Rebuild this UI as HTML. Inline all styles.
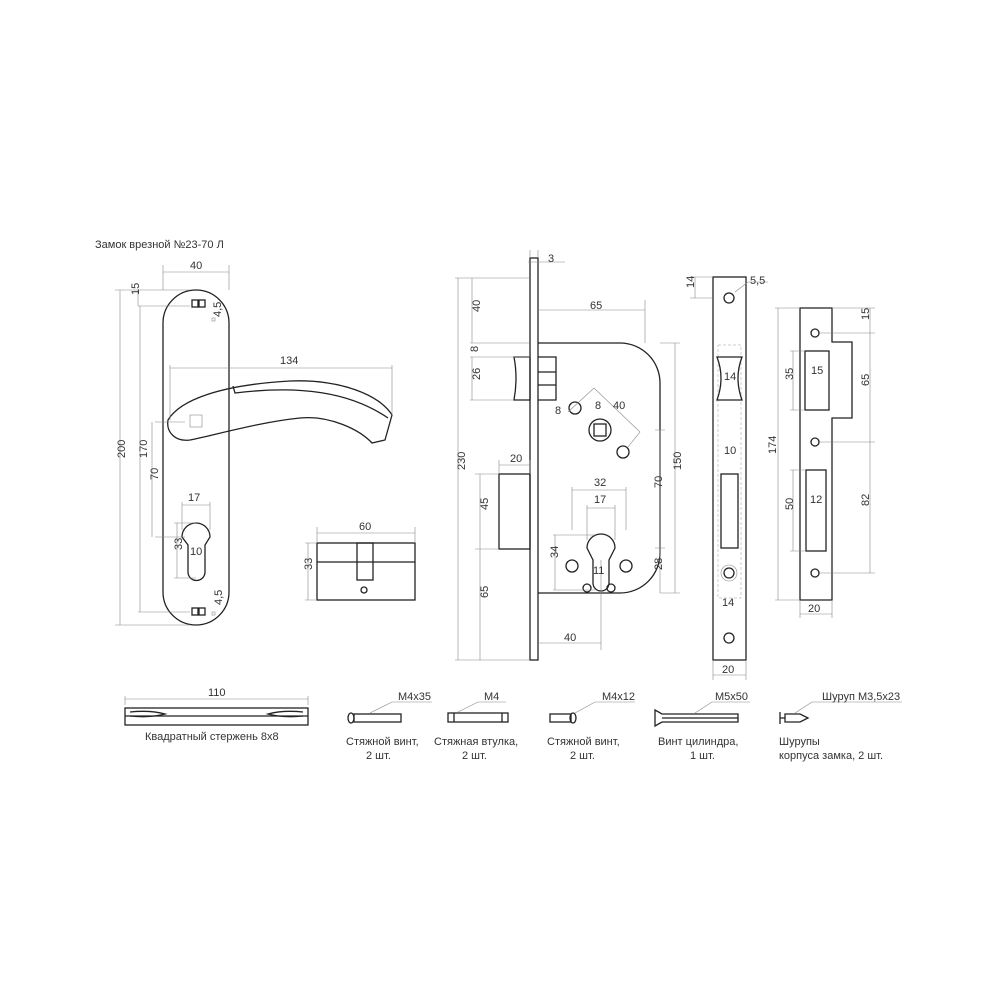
<!DOCTYPE html>
<html><head><meta charset="utf-8"><style>
html,body{margin:0;padding:0;background:#fff}
svg{display:block}
text{font-family:"Liberation Sans","DejaVu Sans",sans-serif;font-size:11px;fill:#333}
.o{fill:none;stroke:#222;stroke-width:1.3}
.d{fill:none;stroke:#888;stroke-width:0.6}
.t{fill:none;stroke:#999;stroke-width:0.5;stroke-dasharray:3 2}
</style></head><body>
<svg width="1000" height="1000" viewBox="0 0 1000 1000">
<text x="95" y="248">Замок врезной №23-70 Л</text>
<!-- Handle plate -->
<rect class="o" x="163" y="290" width="66" height="335" rx="33"/>
<rect class="o" x="192" y="300" width="6" height="7"/><rect class="o" x="199" y="300" width="6" height="7"/>
<rect class="o" x="192" y="608" width="6" height="7"/><rect class="o" x="199" y="608" width="6" height="7"/>
<rect class="d" x="212" y="318" width="3" height="3"/><rect class="d" x="212" y="612" width="3" height="3"/>
<text x="210" y="318" transform="rotate(-90 215 312)">4,5</text>
<text x="213" y="610" transform="rotate(-90 215 603)">4,5</text>
<path class="o" d="M168,420 C180,400 220,385 290,381 C340,379 380,395 392,415 L385,440 L372,443 C360,430 330,415 300,418 C260,422 215,435 190,440 C175,442 166,432 168,420 Z" fill="#fff"/>
<path class="o" d="M233,386 L235,393 C300,385 350,392 388,418"/>
<rect class="d" x="190" y="415" width="12" height="12"/>
<path class="o" d="M182,537 A14,14 0 0 1 210,537 L205,545 L205,572 A8.5,8.5 0 0 1 188,572 L188,545 Z"/>
<!-- handle dims -->
<path class="d" d="M163,265 V290 M229,265 V290 M163,272 H229"/><text x="190" y="269">40</text>
<path class="d" d="M115,290 H190 M138,306 H190 M138,290 V306"/><text x="136" y="304" transform="rotate(-90 133 298)">15</text>
<path class="d" d="M115,625 H190 M120,290 V625"/><text x="118" y="465" transform="rotate(-90 118 458)">200</text>
<path class="d" d="M140,306 V612 M138,612 H190"/><text x="140" y="465" transform="rotate(-90 140 458)">170</text>
<path class="d" d="M155,422 H185 M155,537 H185 M152,422 V537"/><text x="152" y="486" transform="rotate(-90 152 480)">70</text>
<path class="d" d="M170,365 V420 M392,365 V415 M170,368 H392"/><text x="280" y="364">134</text>
<path class="d" d="M182,502 V530 M210,502 V530 M182,505 H210"/><text x="188" y="501">17</text>
<path class="d" d="M174,523 H196 M174,578 H196 M177,523 V578"/><text x="176" y="556" transform="rotate(-90 176 550)">33</text>
<text x="190" y="555">10</text>
<!-- cylinder -->
<rect class="o" x="317" y="543" width="98" height="57"/>
<path class="o" d="M317,562 H415"/><rect class="o" x="357" y="543" width="16" height="37"/>
<circle class="o" cx="364" cy="590" r="3"/>
<path class="d" d="M317,527 V543 M415,527 V543 M317,533 H415"/><text x="359" y="530">60</text>
<path class="d" d="M305,543 H317 M305,600 H317 M308,543 V600"/><text x="306" y="576" transform="rotate(-90 306 570)">33</text>
<!-- lock body -->
<rect class="o" x="530" y="258" width="8" height="402"/>
<path class="o" d="M538,343 H620 A40,40 0 0 1 660,383 V553 A40,40 0 0 1 620,593 H538"/>
<path class="o" d="M514,357 H530 V400 H514 Q518,378 514,357 Z"/>
<path class="o" d="M538,357 H556 V400 H538 M538,372 H556 M538,385 H556"/>
<rect class="o" x="499" y="474" width="31" height="75"/>
<circle class="o" cx="575" cy="408" r="6"/><circle class="o" cx="600" cy="430" r="11"/><rect class="o" x="594" y="424" width="12" height="12"/>
<circle class="o" cx="623" cy="452" r="6"/>
<circle class="o" cx="572" cy="566" r="6"/><circle class="o" cx="626" cy="566" r="6"/>
<path class="o" d="M587,548 A14,14 0 0 1 615,548 L609,560 L609,583 A8,8 0 0 1 593,583 L593,560 Z"/>
<circle class="o" cx="587" cy="588" r="4"/><circle class="o" cx="611" cy="588" r="4"/>
<!-- lock dims -->
<path class="d" d="M530,250 V258 M538,250 V258 M528,262 H565"/><text x="548" y="262">3</text>
<path class="d" d="M455,278 H530 M458,278 V660 M455,660 H530"/><text x="460" y="475" transform="rotate(-90 460 470)">230</text>
<path class="d" d="M472,278 V343 M470,343 H530 M470,357 H530 M472,357 V400 M470,400 H514"/>
<text x="474" y="318" transform="rotate(-90 474 312)">40</text><text x="474" y="356" transform="rotate(-90 474 352)">8</text><text x="474" y="386" transform="rotate(-90 474 380)">26</text>
<path class="d" d="M538,310 H645 M645,300 V343"/><text x="590" y="309">65</text>
<path class="d" d="M499,460 V474 M530,460 V474 M499,465 H530"/><text x="510" y="462">20</text>
<path class="d" d="M475,474 H499 M475,549 H499 M480,474 V660"/><text x="482" y="516" transform="rotate(-90 482 510)">45</text><text x="482" y="604" transform="rotate(-90 482 598)">65</text>
<path class="d" d="M538,643 H601 M601,560 V650"/><text x="564" y="641">40</text>
<path class="d" d="M660,343 H680 M660,593 H680 M675,343 V593"/><text x="676" y="475" transform="rotate(-90 676 470)">150</text>
<path class="d" d="M655,430 H665 M655,548 H665 M660,430 V593"/><text x="656" y="494" transform="rotate(-90 656 488)">70</text><text x="656" y="576" transform="rotate(-90 656 570)">28</text>
<path class="d" d="M572,487 V530 M626,487 V530 M572,490 H626"/><text x="594" y="486">32</text>
<path class="d" d="M587,505 V540 M615,505 V540 M587,508 H615"/><text x="594" y="503">17</text>
<path class="d" d="M553,535 H595 M553,590 H595 M555,535 V590"/><text x="552" y="564" transform="rotate(-90 552 558)">34</text>
<text x="593" y="574">11</text>
<path class="d" d="M568,412 L594,388 L640,432 L628,447"/><text x="555" y="414">8</text><text x="595" y="409">8</text><text x="613" y="409">40</text>
<!-- faceplate -->
<rect class="o" x="713" y="277" width="33" height="383"/>
<rect class="t" x="718" y="345" width="23" height="253"/>
<circle class="o" cx="729" cy="298" r="5"/><circle class="o" cx="729" cy="573" r="5"/><circle class="o" cx="729" cy="638" r="5"/>
<circle class="d" cx="729" cy="573" r="8"/>
<path class="o" d="M717,357 H742 Q734,378 742,400 H717 Q725,378 717,357 Z"/>
<rect class="o" x="721" y="474" width="17" height="74"/>
<text x="724" y="380">14</text><text x="724" y="454">10</text><text x="722" y="606">14</text>
<path class="d" d="M713,660 V680 M746,660 V680 M713,675 H746"/><text x="722" y="673">20</text>
<path class="d" d="M690,277 H713 M690,298 H713 M695,277 V298"/><text x="690" y="292" transform="rotate(-90 690 288)">14</text>
<path class="d" d="M735,292 L748,282 H768"/><text x="750" y="284">5,5</text>
<!-- striker -->
<path class="o" d="M800,308 H832 V342 H852 V418 H832 V600 H800 Z"/>
<circle class="o" cx="815" cy="333" r="4"/><circle class="o" cx="815" cy="442" r="4"/><circle class="o" cx="815" cy="573" r="4"/>
<rect class="o" x="805" y="351" width="24" height="59"/><rect class="o" x="806" y="470" width="20" height="81"/>
<text x="811" y="374">15</text><text x="810" y="503">12</text>
<path class="d" d="M775,308 H800 M775,600 H800 M778,308 V600"/><text x="770" y="460" transform="rotate(-90 770 454)">174</text>
<path class="d" d="M790,351 H805 M790,410 H805 M793,351 V410"/><text x="787" y="386" transform="rotate(-90 787 380)">35</text>
<path class="d" d="M790,470 H806 M790,551 H806 M793,470 V551"/><text x="787" y="516" transform="rotate(-90 787 510)">50</text>
<path class="d" d="M832,308 H875 M820,333 H875 M820,442 H875 M820,573 H875 M870,308 V573"/>
<text x="863" y="326" transform="rotate(-90 863 320)">15</text><text x="863" y="392" transform="rotate(-90 863 386)">65</text><text x="863" y="512" transform="rotate(-90 863 506)">82</text>
<path class="d" d="M800,600 V618 M832,600 V618 M800,614 H832"/><text x="808" y="612">20</text>
<!-- bottom parts -->
<rect class="o" x="125" y="708" width="183" height="17"/><path class="o" d="M125,716 H308"/>
<path class="o" d="M130,712 Q150,710 165,714 Q150,718 130,716 M303,712 Q283,710 268,714 Q283,718 303,716"/>
<path class="d" d="M125,696 V705 M308,696 V705 M125,699 H308"/><text x="208" y="696">110</text>
<text x="145" y="740">Квадратный стержень 8x8</text>
<ellipse class="o" cx="351" cy="718" rx="3" ry="5"/><rect class="o" x="354" y="714" width="47" height="8"/>
<path class="d" d="M370,713 L392,702 H432"/><text x="398" y="700">M4x35</text>
<text x="346" y="745">Стяжной винт,</text><text x="366" y="759">2 шт.</text>
<rect class="o" x="448" y="713" width="60" height="9"/><path class="o" d="M454,713 V722 M502,713 V722"/>
<path class="d" d="M458,712 L478,702 H506"/><text x="484" y="700">M4</text>
<text x="434" y="745">Стяжная втулка,</text><text x="462" y="759">2 шт.</text>
<rect class="o" x="550" y="714" width="21" height="8"/><ellipse class="o" cx="573" cy="718" rx="3" ry="5"/>
<path class="d" d="M575,713 L595,702 H635"/><text x="602" y="700">M4x12</text>
<text x="547" y="745">Стяжной винт,</text><text x="570" y="759">2 шт.</text>
<path class="o" d="M655,710 L662,714 H738 V722 H662 L655,726 Z M662,718 H738"/>
<path class="d" d="M695,713 L712,702 H750"/><text x="715" y="700">M5x50</text>
<text x="658" y="745">Винт цилиндра,</text><text x="690" y="759">1 шт.</text>
<path class="o" d="M780,712 V724 M780,718 H785 M785,714 H800 L808,718 L800,722 H785 Z"/>
<path class="d" d="M795,713 L812,702 H902"/><text x="822" y="700">Шуруп М3,5x23</text>
<text x="779" y="745">Шурупы</text><text x="779" y="759">корпуса замка, 2 шт.</text>
</svg>
</body></html>
